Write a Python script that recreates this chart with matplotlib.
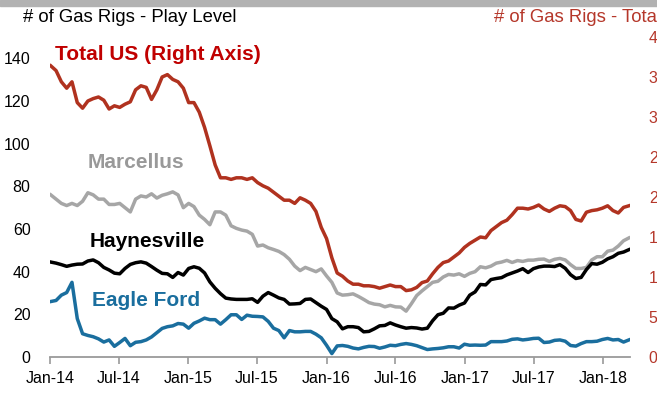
import matplotlib
matplotlib.use("Agg")
import matplotlib.pyplot as plt
import matplotlib.dates as mdates
import pandas as pd

plt.rcParams['font.family'] = ['Liberation Sans', 'DejaVu Sans']

# Bi-weekly rig counts (Friday releases), Jan 2014 - Mar 2018
dates = pd.date_range('2014-01-03', '2018-03-09', freq='2W-FRI')

total_us = [364, 358, 344, 336, 344, 318, 311, 320, 323, 325,
            321, 310, 314, 312, 316, 319, 334, 339, 337, 322,
            334, 350, 353, 347, 344, 336, 318, 318, 306, 287,
            264, 240, 224, 224, 222, 224, 224, 222, 224, 218,
            214, 211, 206, 201, 196, 196, 192, 199, 196, 192,
            182, 162, 148, 124, 105, 101, 95, 91, 91, 89,
            89, 88, 86, 88, 90, 88, 88, 83, 84, 87,
            93, 95, 104, 112, 118, 120, 125, 130, 137, 142,
            146, 150, 149, 158, 163, 168, 171, 178, 186, 186,
            185, 187, 190, 185, 182, 186, 189, 188, 183, 172,
            170, 181, 183, 184, 186, 189, 183, 180, 187, 189]

marcellus = [76, 74, 72, 71, 72, 71, 73, 77, 76, 74,
             74, 71.5, 71.5, 72, 70, 68, 74, 75.5, 75, 76.5,
             74.5, 75.8, 76.5, 77.4, 76, 70, 72, 70.5, 66.5, 64.5,
             62, 68, 68, 66.5, 61.5, 60.3, 59.5, 59, 57.5, 52,
             52.5, 51.2, 50.4, 49.5, 48, 45.8, 42.6, 40.5, 42, 41,
             40, 41.3, 38, 35, 30, 29, 29.2, 29.6, 28.4, 27,
             25.5, 24.8, 24.5, 23.5, 24.2, 23.5, 23.4, 21.5, 25, 28.8,
             31, 33, 35, 35.5, 37.5, 38.7, 38.4, 39, 37.8, 39.2,
             40, 42.3, 41.8, 42.6, 44, 44.5, 45.3, 44.3, 45.2, 44.8,
             45.4, 45.4, 45.8, 45.9, 44.8, 45.8, 46.2, 45.5, 43.3, 41.5,
             41.5, 42, 45.5, 47, 47, 49.6, 50.1, 52, 54.5, 55.8]

haynesville = [44.5, 44, 43.3, 42.5, 43.1, 43.5, 43.6, 45, 45.5, 44.2,
               42, 40.8, 39.3, 39, 41.5, 43.4, 44.2, 44.6, 44, 42.4,
               40.7, 39.2, 39, 37.3, 39.6, 38.4, 41.5, 42.3, 41.6, 39.4,
               35.2, 32.2, 29.7, 27.6, 27.2, 27, 27, 27, 27.3, 25.6,
               28.5, 30.2, 29, 27.7, 27, 24.8, 24.9, 25.1, 27, 27.2,
               25.5, 23.8, 22.3, 18, 16.5, 13.2, 14.2, 14.2, 13.8, 11.8,
               12, 13.2, 14.6, 14.8, 16, 15, 14.2, 13.5, 13.8, 13.6,
               13.1, 13.5, 17, 19.8, 20.5, 23, 22.9, 24.3, 25.3, 29,
               30.5, 34, 33.8, 36.3, 36.8, 37.2, 38.5, 39.4, 40.3, 41.4,
               39.6, 41.4, 42.2, 42.6, 42.6, 42.4, 43.3, 41.6, 38.6, 36.8,
               37.3, 41, 43.8, 43.5, 44.4, 46, 47, 48.6, 49.2, 50.3]

eagle_ford = [26, 26.5, 29, 30.2, 35, 18, 10.9, 10.1, 9.5, 8.5,
              7, 8, 5, 6.8, 8.7, 5.3, 6.9, 7.2, 8, 9.4,
              11.4, 13.4, 14.2, 14.6, 15.7, 15.4, 13.5, 15.8, 16.9, 18.2,
              17.5, 17.5, 15.4, 17.5, 19.8, 19.8, 17.6, 19.6, 19.1, 19,
              18.8, 16.7, 13.5, 12.4, 9, 12.4, 11.8, 11.8, 12, 12,
              10.7, 9, 5.5, 1.6, 5.2, 5.4, 5, 4.2, 3.8, 4.5,
              5, 4.9, 4.1, 4.7, 5.5, 5.3, 5.9, 6.3, 5.9, 5.3,
              4.4, 3.5, 3.8, 4, 4.3, 4.8, 4.8, 4.2, 6, 5.5,
              5.6, 5.5, 5.6, 7.2, 7.2, 7.2, 7.5, 8.3, 8.5, 8,
              8.3, 8.7, 8.8, 6.8, 7, 7.8, 8, 7.4, 5.4, 5.1,
              6.3, 7.2, 7.2, 7.4, 8.2, 8.7, 8, 8.2, 7, 8]

left_ticks = [0, 20, 40, 60, 80, 100, 120, 140]
right_ticks = [0, 50, 100, 150, 200, 250, 300, 350, 400]
month_ticks = pd.date_range('2014-01-01', '2018-01-01', freq='6MS')

RED_LINE = '#B0321F'
RED_TEXT = '#C00000'
RED_AXIS = '#B5372A'
GREY = '#A6A6A6'
BLUE = '#1A6E9E'

fig = plt.figure(figsize=(6.57, 3.93), dpi=100)
fig.patches.append(plt.Rectangle((0, 1 - 6 / 393), 1, 6 / 393,
                                 transform=fig.transFigure,
                                 color='#B2B2B2', zorder=0))

ax = fig.add_axes([50 / 657, 36 / 393, 580 / 657, 320 / 393])
ax2 = ax.twinx()

lw = 2.5
ax.plot(dates, marcellus, color=GREY, lw=lw, solid_joinstyle='round')
ax.plot(dates, haynesville, color='black', lw=lw, solid_joinstyle='round')
ax.plot(dates, eagle_ford, color=BLUE, lw=lw, solid_joinstyle='round')
ax2.plot(dates, total_us, color=RED_LINE, lw=lw, solid_joinstyle='round')

ax.set_ylim(0, 150)
ax2.set_ylim(0, 400)
ax.set_xlim(pd.Timestamp('2014-01-01'), pd.Timestamp('2018-03-12'))

ax.set_yticks(left_ticks)
ax.set_yticklabels([str(t) for t in left_ticks])
ax2.set_yticks(right_ticks)
ax2.set_yticklabels([str(t) for t in right_ticks])

ax.set_xticks(month_ticks)
ax.xaxis.set_major_formatter(mdates.DateFormatter('%b-%y'))

for a in (ax, ax2):
    for s in a.spines.values():
        s.set_visible(False)
ax.spines['bottom'].set_visible(True)
ax.spines['bottom'].set_color('#9A9A9A')
ax.spines['bottom'].set_linewidth(1.3)

ax.tick_params(axis='x', colors='#9A9A9A', length=5, width=1.2,
               labelcolor='black', labelsize=11.5, pad=5)
ax.tick_params(axis='y', length=0, labelsize=11.5, labelcolor='black', pad=14)
ax2.tick_params(axis='y', length=0, labelsize=11.5, labelcolor=RED_AXIS, pad=13.5)

# Axis titles
fig.text(23 / 657, 1 - 18 / 393, '# of Gas Rigs - Play Level', fontsize=13.3,
         color='black', va='center', ha='left')
fig.text(494 / 657, 1 - 18 / 393, '# of Gas Rigs - Total US', fontsize=13.3,
         color=RED_AXIS, va='center', ha='left')

# Series labels
fig.text(55 / 657, 1 - 55 / 393, 'Total US (Right Axis)', fontsize=15,
         fontweight='bold', color=RED_TEXT, va='center', ha='left')
fig.text(88 / 657, 1 - 163 / 393, 'Marcellus', fontsize=15,
         fontweight='bold', color='#999999', va='center', ha='left')
fig.text(90 / 657, 1 - 242 / 393, 'Haynesville', fontsize=15,
         fontweight='bold', color='black', va='center', ha='left')
fig.text(92 / 657, 1 - 301 / 393, 'Eagle Ford', fontsize=15,
         fontweight='bold', color=BLUE, va='center', ha='left')

fig.savefig('out.png', dpi=100)
